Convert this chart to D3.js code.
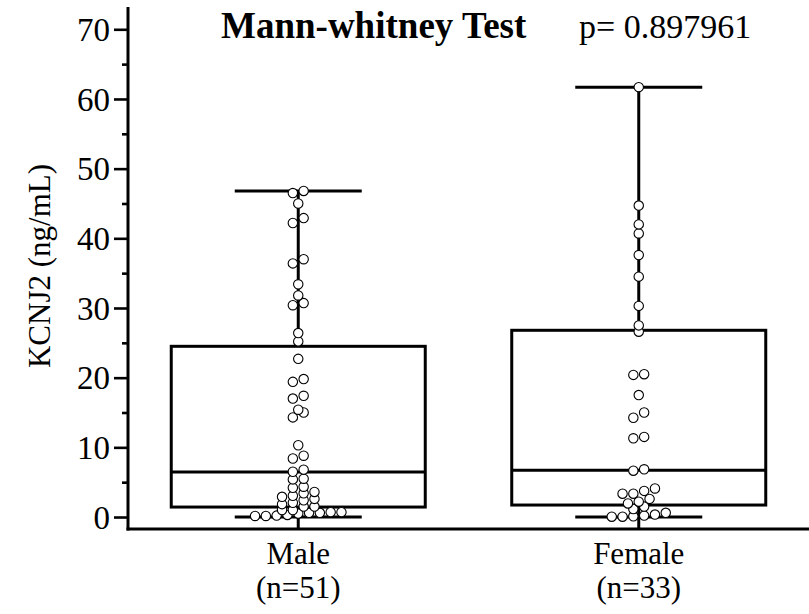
<!DOCTYPE html>
<html>
<head>
<meta charset="utf-8">
<script src="https://cdn.jsdelivr.net/npm/d3@7/dist/d3.min.js"></script>
<style>
  html, body { margin: 0; padding: 0; background: #fff; }
  svg { display: block; }
  text { font-family: "Liberation Serif", "Times New Roman", serif; fill: #000; }
</style>
</head>
<body>
<svg id="chart" width="809" height="614"></svg>
<script>
// ---- data ----
const categories = ["Male", "Female"];
const countLabels = ["(n=51)", "(n=33)"];
const maleValues = [
  0.15, 0.15, 0.2, 0.3, 0.5, 0.6, 0.6, 0.7, 0.7,
  1.0, 1.0, 1.5, 1.5,
  1.85, 2.05, 2.4, 2.6,
  2.9, 3.05, 3.4, 3.6,
  4.2, 4.35, 5.4, 5.5, 6.5, 6.8, 8.4, 8.8, 10.3,
  14.3, 15.0, 15.4, 17.0, 17.4, 19.4, 19.8, 22.7, 25.2, 26.4,
  30.4, 30.7, 31.8, 33.4, 36.4, 37.0, 42.2, 42.9, 45.0, 46.5, 46.8
];
const femaleValues = [
  0.05, 0.05, 0.1, 0.2, 0.35, 0.6,
  1.15, 1.5,
  1.95, 2.2, 2.6,
  3.35, 3.35, 3.75, 4.1,
  6.65, 6.85, 11.3, 11.5, 14.25, 15.0, 17.5, 20.4, 20.5,
  26.6, 27.5, 30.3, 34.5, 37.6, 40.7, 42.0, 44.7, 61.7
];
const boxQ1 = [1.43, 1.72];
const boxMedian = [6.45, 6.7];
const boxQ3 = [24.5, 26.8];
const whiskerMin = [0, 0];
const whiskerMax = [46.8, 61.7];
const yMajorTicks = [0, 10, 20, 30, 40, 50, 60, 70];
const yMinorTicks = [5, 15, 25, 35, 45, 55, 65];
const titleText = "Mann-whitney Test";
const pText = "p= 0.897961";
const yLabel = "KCNJ2 (ng/mL)";

const groups = [maleValues, femaleValues];

// ---- layout ----
const svg = d3.select("#chart");
const plotLeft = 128, plotRight = 809, plotTop = 7, plotBottom = 529;

const x = d3.scalePoint().domain(categories).range([plotLeft, plotRight]).padding(0.5);
const step = x.step();
const boxW = step * 0.746;
const capW = boxW / 2;

const y = d3.scaleLinear().domain([-1.72, 73.2]).range([plotBottom, plotTop]);

const LW = 3;

// axes
const yAxis = d3.axisLeft(y).tickValues(yMajorTicks).tickSize(14).tickPadding(4).tickFormat(d3.format("d"));
const gy = svg.append("g").attr("transform", `translate(${plotLeft},0)`).call(yAxis);
gy.select(".domain").remove();
gy.selectAll(".tick line").attr("stroke", "#000").attr("stroke-width", 2.6);
gy.selectAll(".tick text").style("font-size", "33px").attr("fill", "#000").attr("dy", "0.34em");

const gyMinor = svg.append("g").attr("transform", `translate(${plotLeft},0)`)
  .call(d3.axisLeft(y).tickValues(yMinorTicks).tickSize(6).tickFormat(""));
gyMinor.select(".domain").remove();
gyMinor.selectAll(".tick line").attr("stroke", "#000").attr("stroke-width", 2.6);

svg.append("line").attr("x1", plotLeft).attr("x2", plotLeft).attr("y1", plotTop).attr("y2", plotBottom + LW / 2)
  .attr("stroke", "#000").attr("stroke-width", LW);
svg.append("line").attr("x1", plotLeft - LW / 2).attr("x2", plotRight).attr("y1", plotBottom).attr("y2", plotBottom)
  .attr("stroke", "#000").attr("stroke-width", LW);

// boxes, whiskers, caps
categories.forEach((c, i) => {
  const cx = x(c);
  const g = svg.append("g");
  g.append("line").attr("x1", cx).attr("x2", cx).attr("y1", y(whiskerMax[i])).attr("y2", y(boxQ3[i]))
    .attr("stroke", "#000").attr("stroke-width", LW);
  g.append("line").attr("x1", cx).attr("x2", cx).attr("y1", y(boxQ1[i])).attr("y2", plotBottom)
    .attr("stroke", "#000").attr("stroke-width", LW);
  [whiskerMax[i], whiskerMin[i]].forEach(v => {
    g.append("line").attr("x1", cx - capW / 2).attr("x2", cx + capW / 2).attr("y1", y(v)).attr("y2", y(v))
      .attr("stroke", "#000").attr("stroke-width", LW);
  });
  g.append("rect").attr("x", cx - boxW / 2).attr("y", y(boxQ3[i]))
    .attr("width", boxW).attr("height", y(boxQ1[i]) - y(boxQ3[i]))
    .attr("fill", "none").attr("stroke", "#000").attr("stroke-width", LW);
  g.append("line").attr("x1", cx - boxW / 2).attr("x2", cx + boxW / 2)
    .attr("y1", y(boxMedian[i])).attr("y2", y(boxMedian[i]))
    .attr("stroke", "#000").attr("stroke-width", LW);
});

// dot-plot layout: group nearby values into rows, spread each row centred
const R = 4.7, SP = 10.8, ROW = 0.78;
function layout(values) {
  const s = values.slice().sort((a, b) => a - b);
  const rows = [];
  let cur = null;
  s.forEach(v => {
    if (cur && v - cur[0] < ROW) cur.push(v);
    else { cur = [v]; rows.push(cur); }
  });
  const out = [];
  rows.forEach(r => {
    r.forEach((v, k) => out.push({ v, off: (k - (r.length - 1) / 2) * SP }));
  });
  return out;
}

categories.forEach((c, i) => {
  const pts = layout(groups[i]);
  svg.append("g").selectAll("circle").data(pts).join("circle")
    .attr("cx", d => x(c) + d.off)
    .attr("cy", d => y(d.v))
    .attr("r", R)
    .attr("fill", "#fff").attr("stroke", "#000").attr("stroke-width", 1.1);
});

// category labels
categories.forEach((c, i) => {
  svg.append("text").attr("x", x(c)).attr("y", 564).attr("text-anchor", "middle")
    .style("font-size", "31px").text(c);
  svg.append("text").attr("x", x(c)).attr("y", 598).attr("text-anchor", "middle")
    .style("font-size", "31px").text(countLabels[i]);
});

// y label
svg.append("text").attr("transform", `translate(50,266) rotate(-90)`)
  .attr("text-anchor", "middle").style("font-size", "31px").text(yLabel);

// title
svg.append("text").attr("x", 221).attr("y", 38).style("font-size", "37px").style("font-weight", "bold").text(titleText);
svg.append("text").attr("x", 579).attr("y", 38).style("font-size", "34px").text(pText);
</script>
</body>
</html>
